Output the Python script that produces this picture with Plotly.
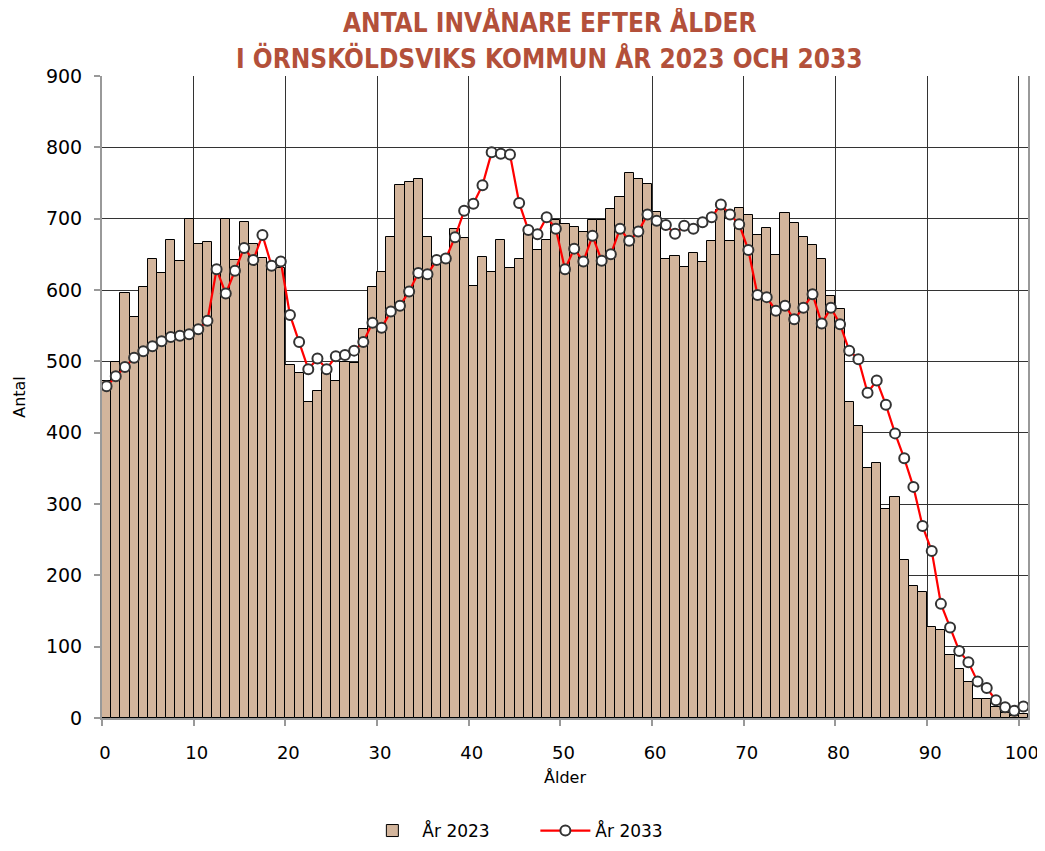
import plotly.graph_objects as go

ages = list(range(0, 101))

ar_2023 = [472, 499, 596, 562, 604, 643, 624, 670, 640, 699,
           665, 667, 629, 699, 642, 695, 665, 645, 629, 631,
           495, 484, 443, 459, 488, 472, 499, 498, 545, 604,
           625, 674, 747, 751, 756, 675, 643, 645, 685, 673,
           606, 646, 625, 670, 631, 643, 684, 656, 670, 698,
           692, 689, 681, 698, 698, 713, 731, 764, 755, 748,
           710, 644, 648, 632, 652, 639, 669, 712, 669, 715,
           705, 677, 687, 649, 708, 694, 674, 663, 644, 591,
           573, 443, 410, 350, 358, 293, 310, 221, 185, 176,
           128, 124, 89, 69, 51, 26, 26, 15, 7, 3, 6]

ar_2033 = [465, 479, 492, 505, 514, 521, 528, 534, 536, 538,
           545, 557, 629, 595, 627, 659, 642, 677, 634, 640,
           565, 527, 489, 504, 489, 507, 509, 515, 527, 554,
           547, 570, 578, 598, 624, 622, 642, 644, 674, 711,
           721, 747, 793, 791, 790, 722, 684, 678, 702, 686,
           629, 658, 640, 676, 641, 650, 686, 669, 682, 706,
           697, 691, 679, 690, 686, 695, 702, 720, 706, 692,
           656, 593, 590, 571, 578, 559, 575, 594, 553, 575,
           552, 515, 503, 456, 473, 439, 399, 364, 324, 269,
           234, 160, 127, 94, 78, 51, 42, 25, 15, 10, 16]

title_lines = ["ANTAL INVÅNARE EFTER ÅLDER",
               "I ÖRNSKÖLDSVIKS KOMMUN ÅR 2023 OCH 2033"]

tick_vals = list(range(0, 101, 10))
tick_text = [str(v) for v in tick_vals]
y_ticks = list(range(0, 901, 100))

# bars occupy [age, age+1] so that ticks fall on the left edge of each bar
x_pos = [a + 0.5 for a in ages]

fig = go.Figure()
fig.add_trace(go.Bar(
    x=x_pos, y=ar_2023, name="År 2023", width=1.0,
    marker=dict(color="#D3B59C", line=dict(color="#000000", width=1)),
    hovertext=[str(a) for a in ages],
))
fig.add_trace(go.Scatter(
    x=x_pos, y=ar_2033, name="År 2033", mode="lines+markers",
    line=dict(color="#FF0000", width=2.2),
    marker=dict(symbol="circle", size=10, color="#FFFFFF",
                line=dict(color="#333333", width=2)),
    hovertext=[str(a) for a in ages],
))

title_font = dict(family="Liberation Sans Narrow, Arial Narrow, DejaVu Sans Condensed, sans-serif",
                  size=26, color="#B3503A", weight="bold")
for line, yp in zip(title_lines, [1.083, 1.028]):
    fig.add_annotation(text=line, xref="paper", yref="paper", x=0.4838, y=yp,
                       xanchor="center", yanchor="middle", showarrow=False,
                       font=title_font)

fig.update_layout(
    width=1029, height=835,
    margin=dict(l=94, r=9, t=68, b=125, autoexpand=False),
    paper_bgcolor="#FFFFFF", plot_bgcolor="#FFFFFF",
    bargap=0,
    font=dict(family="DejaVu Sans, Verdana, sans-serif", size=17, color="#000000"),
    showlegend=True,
    legend=dict(orientation="h", x=0.468, xanchor="center", y=-0.176, yanchor="middle",
                font=dict(size=17), traceorder="normal", itemwidth=50, entrywidth=108),
    xaxis=dict(
        range=[0, 101], tickmode="array", tickvals=tick_vals, ticktext=tick_text,
        showgrid=True, gridcolor="#333333", gridwidth=1,
        showline=True, linecolor="#999999", linewidth=2,
        ticks="outside", ticklen=6, tickcolor="#999999", tickwidth=2,
        ticklabelstandoff=11, ticklabelshift=3, ticklabeloverflow="allow",
        zeroline=False, automargin=False,
        title=dict(text="Ålder", font=dict(size=16), standoff=10),
        tickfont=dict(size=18),
    ),
    yaxis=dict(
        range=[0, 900], tickmode="array", tickvals=y_ticks,
        showgrid=True, gridcolor="#333333", gridwidth=1,
        showline=True, linecolor="#999999", linewidth=2, mirror=True,
        ticks="outside", ticklen=6, tickcolor="#999999", tickwidth=2,
        ticklabelstandoff=8,
        zeroline=False, automargin=False,
        title=dict(text="Antal", font=dict(size=16), standoff=16),
        tickfont=dict(size=19),
    ),
)

fig.write_html("out.html")
